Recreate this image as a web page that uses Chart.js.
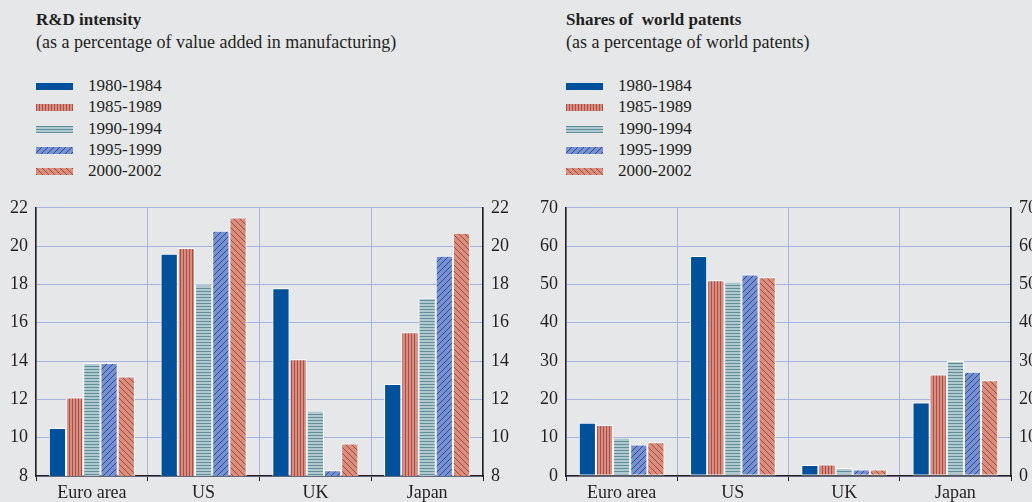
<!DOCTYPE html>
<html>
<head>
<meta charset="utf-8">
<script src="https://cdn.jsdelivr.net/npm/chart.js@4.4.1/dist/chart.umd.min.js"></script>
<style>
  body { margin:0; background:#e6e7e9; width:1032px; height:502px; overflow:hidden;
         font-family:"Liberation Serif","Times New Roman",serif; color:#231f20; }
  .head { position:absolute; top:9px; white-space:nowrap; }
  .head b { font-size:17px; display:block; line-height:22px; }
  .head span { font-size:18px; display:block; line-height:22px; }
  .legend { position:absolute; top:75px; font-size:17px; width:200px; }
  .legend div { height:21.3px; line-height:21.3px; position:relative; }
  .legend canvas { position:absolute; left:0; top:8px; }
  .legend span { position:absolute; left:52px; white-space:nowrap; }
  .box { position:absolute; top:189px; width:516px; height:313px; }
</style>
</head>
<body>
<div class="head" style="left:36px"><b>R&amp;D intensity</b><span>(as a percentage of value added in manufacturing)</span></div>
<div class="head" style="left:566px"><b>Shares of&nbsp; world patents</b><span>(as a percentage of world patents)</span></div>
<div class="legend" id="leg1" style="left:36px"></div>
<div class="legend" id="leg2" style="left:566px"></div>
<div class="box" style="left:0"><canvas id="ch1"></canvas></div>
<div class="box" style="left:516px"><canvas id="ch2"></canvas></div>
<script>
// data
var countries = ['Euro area', 'US', 'UK', 'Japan'];
var periods = ['1980-1984', '1985-1989', '1990-1994', '1995-1999', '2000-2002'];

// R&D intensity, one array per period (Euro area, US, UK, Japan)
var rd_1980 = [10.5, 19.6, 17.8, 12.8];
var rd_1985 = [12.1, 19.9, 14.1, 15.5];
var rd_1990 = [13.9, 18.0, 11.4, 17.3];
var rd_1995 = [13.9, 20.8, 8.3, 19.5];
var rd_2000 = [13.2, 21.5, 9.7, 20.7];

// shares of world patents
var pat_1980 = [13.9, 57.4, 2.9, 19.2];
var pat_1985 = [13.3, 51.1, 3.0, 26.5];
var pat_1990 = [10.0, 50.7, 2.1, 30.0];
var pat_1995 = [8.2, 52.6, 1.7, 27.2];
var pat_2000 = [8.8, 51.9, 1.7, 25.0];

var rdTicks = [8, 22, 2];
var patTicks = [0, 70, 10];

var serif = 'Liberation Serif';
var ink = '#231f20';
var gridBlue = '#a7b3de';

Chart.defaults.font.family = serif;

//patterns for the bars
function makePattern(bg, fg, kind){
  var c = document.createElement('canvas');
  var s = (kind == 'v' || kind == 'h') ? 3 : 6;
  c.width = s; c.height = s;
  var g = c.getContext('2d');
  g.fillStyle = bg;
  g.fillRect(0, 0, s, s);
  g.strokeStyle = fg;
  g.lineWidth = 1;
  g.beginPath();
  if (kind == 'v'){ g.moveTo(0.5, 0); g.lineTo(0.5, s); }
  if (kind == 'h'){ g.moveTo(0, 0.5); g.lineTo(s, 0.5); }
  if (kind == 'f'){ g.moveTo(-1, s + 1); g.lineTo(s + 1, -1); g.moveTo(-1, 1); g.lineTo(1, -1); g.moveTo(s - 1, s + 1); g.lineTo(s + 1, s - 1); }
  if (kind == 'b'){ g.moveTo(-1, -1); g.lineTo(s + 1, s + 1); g.moveTo(s - 1, -1); g.lineTo(s + 1, 1); g.moveTo(-1, s - 1); g.lineTo(1, s + 1); }
  g.stroke();
  return g.createPattern(c, 'repeat');
}

var fills = [
  '#00519c',
  makePattern('#d48f80', '#b04c45', 'v'),
  makePattern('#b0c9ce', '#5f9099', 'h'),
  makePattern('#7b91ce', '#1d4ea6', 'f'),
  makePattern('#d6907d', '#b0403a', 'b')
];

function buildLegend(id){
  var box = document.getElementById(id);
  periods.forEach((p, i) => {
    var row = document.createElement('div');
    var sw = document.createElement('canvas');
    sw.width = 37; sw.height = 7;
    var g = sw.getContext('2d');
    g.fillStyle = fills[i];
    g.fillRect(0, 0, 37, 7);
    row.appendChild(sw);
    var t = document.createElement('span');
    t.textContent = p;
    row.appendChild(t);
    box.appendChild(row);
  });
}
buildLegend('leg1');
buildLegend('leg2');

function makeChart(id, series, tk, leftW, rightW){
  var datasets = series.map((d, i) => ({
    label: periods[i],
    data: d,
    backgroundColor: fills[i],
    borderColor: '#ffffff',
    borderWidth: 1,
    borderSkipped: false
  }));
  var yOpts = function(pos){
    return {
      position: pos,
      min: tk[0], max: tk[1],
      afterFit: (s) => { s.width = pos == 'left' ? leftW : rightW; },
      ticks: { stepSize: tk[2], color: ink, font: { family: serif, size: 18 }, padding: 8 },
      grid: { color: gridBlue, drawTicks: false, drawOnChartArea: pos == 'left' },
      border: { color: ink, width: 1.5 }
    };
  };
  return new Chart(document.getElementById(id), {
    type: 'bar',
    data: { labels: countries, datasets: datasets },
    options: {
      responsive: true,
      maintainAspectRatio: false,
      animation: false,
      layout: { padding: { top: 3, left: 0, right: 0, bottom: 0 } },
      categoryPercentage: 0.77,
      barPercentage: 1.0,
      plugins: { legend: { display: false }, tooltip: { enabled: false } },
      scales: {
        x: {
          afterFit: (s) => { s.height = 26; },
          ticks: { color: ink, font: { family: serif, size: 18 }, padding: 1 },
          grid: { color: gridBlue, tickColor: ink, tickLength: 5 },
          border: { color: ink, width: 1.5 }
        },
        y: yOpts('left'),
        y2: yOpts('right')
      }
    }
  });
}

makeChart('ch1', [rd_1980, rd_1985, rd_1990, rd_1995, rd_2000], rdTicks, 36, 33);
makeChart('ch2', [pat_1980, pat_1985, pat_1990, pat_1995, pat_2000], patTicks, 50, 21);
</script>
</body>
</html>
